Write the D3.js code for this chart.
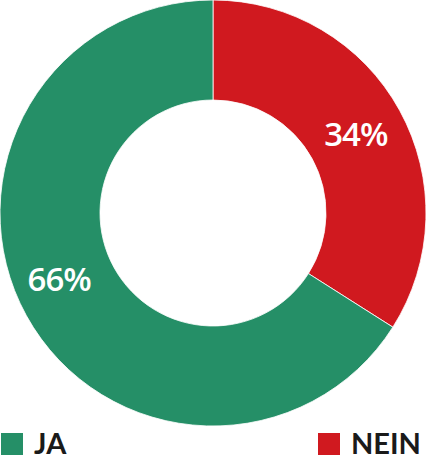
<!DOCTYPE html>
<html><head><meta charset="utf-8">
<script src="https://cdn.jsdelivr.net/npm/d3@7"></script>
<style>body{margin:0;background:#fff}svg{display:block}</style>
</head><body>
<svg id="c" width="427" height="460"></svg>
<script>
const categories = ["NEIN", "JA"];
const values = [34, 66];
const labels = ["34%", "66%"];
const legendOrder = ["JA", "NEIN"];
const colors = {"JA": "#258f67", "NEIN": "#d0191f"};

const svg = d3.select("#c");
const cx = 213, cy = 213, R = 213, r = 113;
const g = svg.append("g").attr("transform", `translate(${cx},${cy})`);
const pie = d3.pie().sort(null).value(d => d.v);
const data = pie(categories.map((c, i) => ({c, v: values[i], l: labels[i]})));
const arc = d3.arc().innerRadius(r).outerRadius(R);
g.selectAll("path").data(data).join("path")
  .attr("d", arc).attr("fill", d => colors[d.data.c])
  .attr("stroke", "#fff").attr("stroke-width", 0.8);

const nudge = {"NEIN": [0, 0], "JA": [-11, -12]};
g.selectAll("text").data(data).join("text")
  .attr("x", d => arc.centroid(d)[0] + nudge[d.data.c][0])
  .attr("y", d => arc.centroid(d)[1] + nudge[d.data.c][1])
  .attr("dy", "0.35em").attr("text-anchor", "middle")
  .attr("fill", "#fff").attr("font-family", "Open Sans").attr("font-weight", 600)
  .attr("font-size", 33).attr("letter-spacing", -1)
  .text(d => d.data.l);

const lx = {"JA": 1, "NEIN": 318};
const lg = svg.selectAll("g.leg").data(legendOrder).join("g").attr("class", "leg")
  .attr("transform", d => `translate(${lx[d]},433)`);
lg.append("rect").attr("width", 22).attr("height", 22).attr("fill", d => colors[d]);
lg.append("text").attr("x", 33).attr("y", 20.5)
  .attr("font-family", "Lato").attr("font-weight", 700).attr("font-size", 29)
  .attr("fill", "#1a1a1a").text(d => d);
</script>
</body></html>
